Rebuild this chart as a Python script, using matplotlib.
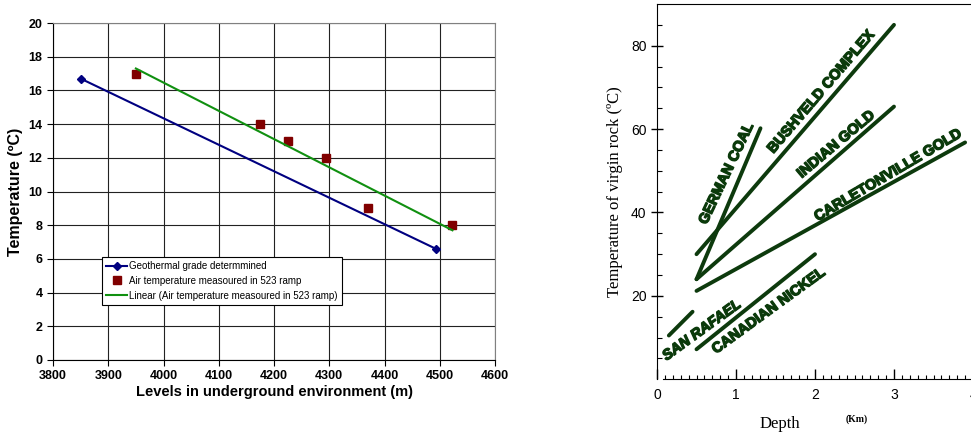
import numpy as np
import matplotlib
matplotlib.use("Agg")
import matplotlib.pyplot as plt
import matplotlib.patheffects as pe

# ==============================
# Left chart data
# ==============================
geo_level = [3850, 4493]
geo_temp = [16.7, 6.6]

air_level = [3950, 4175, 4225, 4295, 4370, 4523]
air_temp = [17, 14, 13, 12, 9, 8]

# ==============================
# Right chart data (depth km, temperature C)
# ==============================
mine_names = ["SAN RAFAEL", "CANADIAN NICKEL", "CARLETONVILLE GOLD",
              "INDIAN GOLD", "BUSHVELD COMPLEX", "GERMAN COAL"]
mine_depth = [[0.15, 0.45], [0.5, 2.0], [0.5, 3.9], [0.5, 3.0], [0.5, 3.0], [0.5, 1.31]]
mine_temp = [[10.5, 16.2], [7.2, 30.0], [21.2, 56.8], [24.0, 65.4], [30.0, 85.0], [24.0, 60.2]]

# label placement (depth, temp, angle)
label_x = [0.57, 1.42, 2.93, 2.27, 2.08, 0.88]
label_y = [11.8, 16.5, 49.0, 56.4, 69.0, 49.4]
label_rot = [36, 36, 30.5, 40, 49.5, 64.7]

fig = plt.figure(figsize=(9.71, 4.32), dpi=100)

# ==============================
# Left chart
# ==============================
ax1 = fig.add_axes([53/971, 72/432, 442/971, 337/432])
sans = "Liberation Sans"

ax1.plot(geo_level, geo_temp, color="#000080", lw=1.5, marker="D", ms=4,
         label="Geothermal grade determmined")
ax1.plot(air_level, air_temp, ls="none", marker="s", ms=6, color="#800000",
         label="Air temperature measoured in 523 ramp")
slope, inter = np.polyfit(air_level, air_temp, 1)
fit_x = np.array([air_level[0], air_level[-1]])
ax1.plot(fit_x, slope * fit_x + inter, color="#109010", lw=1.5,
         label="Linear (Air temperature measoured in 523 ramp)")

ax1.set_xlim(3800, 4600)
ax1.set_ylim(0, 20)
ax1.set_xticks(range(3800, 4601, 100))
ax1.set_yticks(range(0, 21, 2))
ax1.grid(True, color="#222222", lw=0.8)
ax1.set_axisbelow(True)
for s in ["top", "right"]:
    ax1.spines[s].set_color("#808080")
ax1.tick_params(direction="out", length=4, width=0.8)
for lab in ax1.get_xticklabels() + ax1.get_yticklabels():
    lab.set_fontfamily(sans)
    lab.set_fontweight("bold")
    lab.set_fontsize(9)
ax1.set_xlabel("Levels in underground environment (m)", fontfamily=sans,
               fontweight="bold", fontsize=10.5, labelpad=2)
ax1.set_ylabel("Temperature (ºC)", fontfamily=sans, fontweight="bold",
               fontsize=11.5, labelpad=4)
leg = ax1.legend(loc="upper left", bbox_to_anchor=(0.1, 0.32), fancybox=False,
                 edgecolor="black", framealpha=1, prop={"family": sans, "size": 7},
                 handlelength=2.2, borderpad=0.4, labelspacing=0.5,
                 handletextpad=0.2)
leg.get_frame().set_linewidth(0.8)

# ==============================
# Right chart
# ==============================
ax2 = fig.add_axes([657/971, 52.7/432, 4.1 * 79/971, 375.3/432])
for xs, ys in zip(mine_depth, mine_temp):
    ax2.plot(xs, ys, color="#0d3a0d", lw=2.8, solid_capstyle="round")
for name, x, y, r in zip(mine_names, label_x, label_y, label_rot):
    ax2.text(x, y, name, rotation=r, ha="center", va="center",
             fontfamily=sans, fontweight="bold", fontsize=10.5,
             color="#0b3a0b", rotation_mode="anchor",
             style="italic" if name == "SAN RAFAEL" else "normal",
             path_effects=[pe.withStroke(linewidth=1.0, foreground="#0b3a0b")])

ax2.set_xlim(0, 4.1)
ax2.set_ylim(0, 90)
ax2.spines["right"].set_visible(False)
ax2.spines["bottom"].set_bounds(0.08, 4.1)
ax2.set_xticks([0, 1, 2, 3, 4])
ax2.set_xticks(np.arange(0.1, 4.1, 0.1), minor=True)
ax2.set_yticks([20, 40, 60, 80])
ax2.set_yticks(np.arange(5, 90, 5), minor=True)
ax2.tick_params(axis="x", which="major", direction="in", length=7, width=1, pad=6)
ax2.tick_params(axis="x", which="minor", direction="in", length=3, width=0.8)
ax2.tick_params(axis="y", which="major", direction="inout", length=8, width=1)
ax2.tick_params(axis="y", which="minor", direction="in", length=3.5, width=0.8)
for lab in ax2.get_xticklabels() + ax2.get_yticklabels():
    lab.set_fontfamily(sans)
    lab.set_fontsize(10)
ax2.set_ylabel("Temperature of virgin rock (ºC)", fontfamily="Liberation Serif",
               fontsize=12, labelpad=6)
fig.text(780/971, 1 - 424/432, "Depth", fontfamily="Liberation Serif",
         fontsize=12, ha="center", va="center")
fig.text(857/971, 1 - 419/432, "(Km)", fontfamily="Liberation Serif",
         fontsize=7, fontweight="bold", ha="center", va="center")

fig.savefig("out.png", dpi=100)
